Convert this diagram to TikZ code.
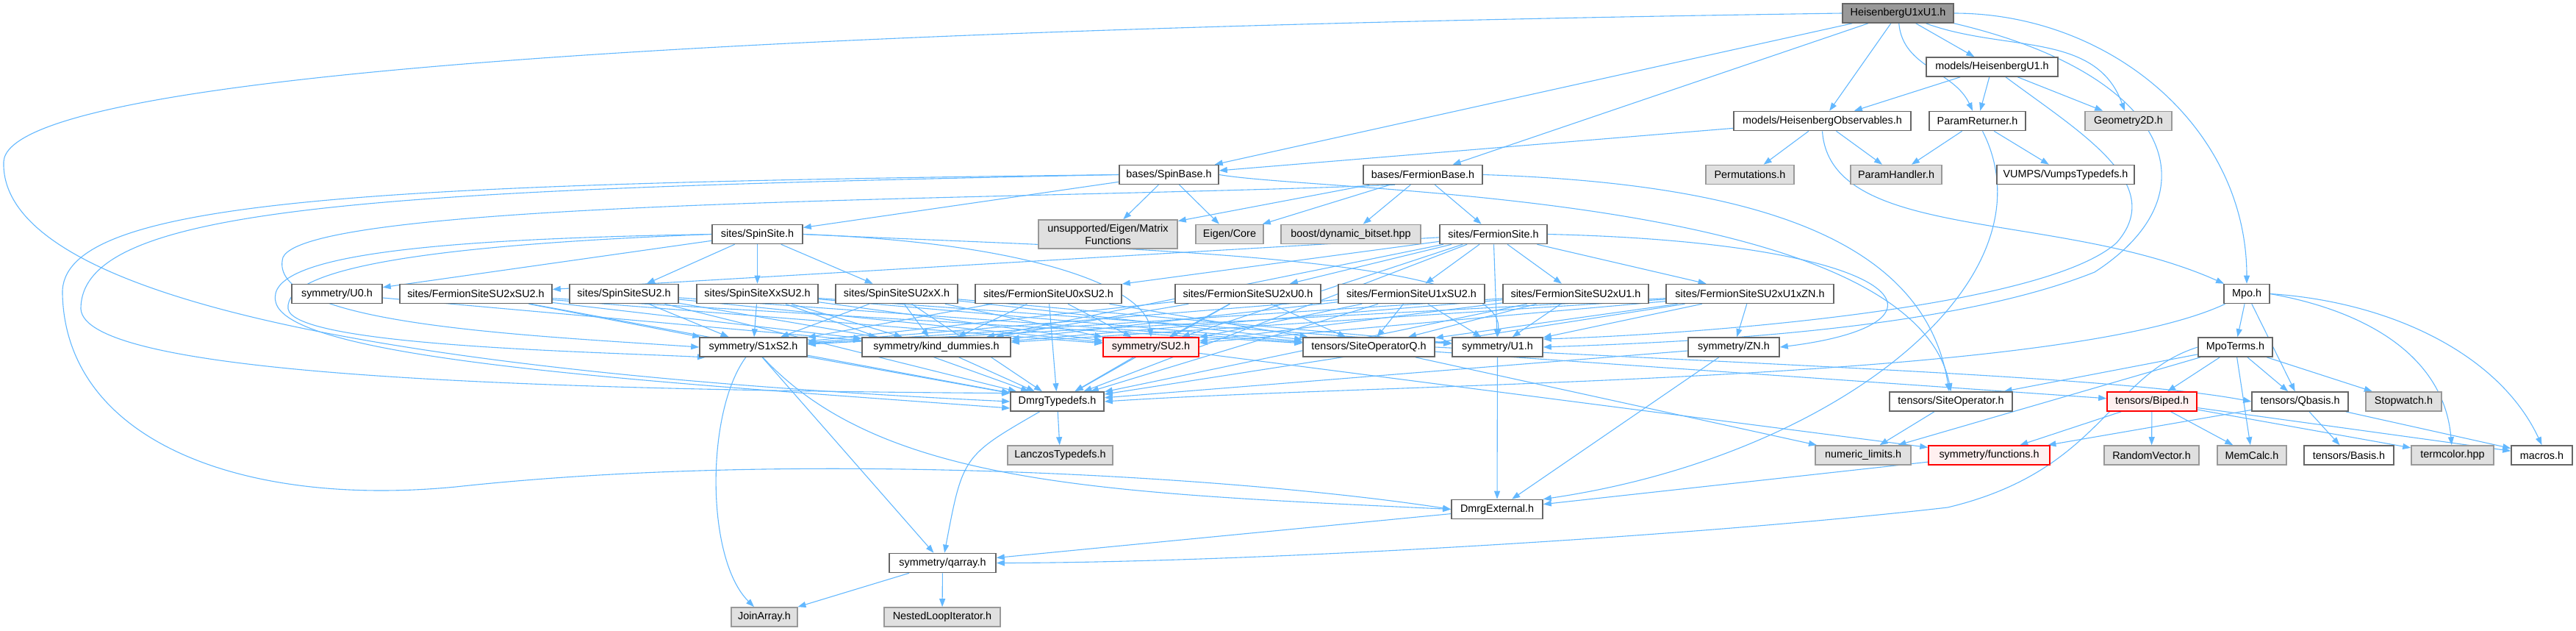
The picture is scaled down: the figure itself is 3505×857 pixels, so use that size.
\documentclass[tikz,border=0pt]{standalone}
\usepackage{fontspec}
\setmainfont{Liberation Sans}
\usepackage{tikz}
\usetikzlibrary{positioning,arrows.meta}
\definecolor{edgeblue}{HTML}{63B8FF}
\definecolor{boxgray}{HTML}{666666}
\definecolor{extgray}{HTML}{999999}
\definecolor{extfill}{HTML}{E0E0E0}
\definecolor{rootfill}{HTML}{999999}
\definecolor{partfill}{HTML}{FFF0F0}
\pgfdeclarelayer{edges}
\pgfsetlayers{edges,main}

\begin{document}
\begin{tikzpicture}[x=1pt,y=-1pt,
  file/.style={draw=boxgray,line width=1.6pt,fill=white,inner sep=0pt,minimum height=26,font=\fontsize{14.4}{17}\selectfont},
  ext/.style={file,draw=extgray,fill=extfill},
  part/.style={file,draw=red,fill=partfill},
  rootfile/.style={file,fill=rootfill},
  dep/.style={draw=edgeblue,line width=1.1pt,-{Triangle[length=11pt,width=8pt]}}]
\useasboundingbox (0,0) rectangle (3505,857);
% 상단
\node[rootfile,minimum width=151] (root) at (2582.5,18) {HeisenbergU1xU1.h};
\node[file,minimum width=179] (hu1) at (2710.5,91) {models/HeisenbergU1.h};
\node[file,minimum width=241] (hobs) at (2479.5,164.5) {models/HeisenbergObservables.h};
\node[file,minimum width=131] (parret) at (2690.5,164.5) {ParamReturner.h};
\node[ext,minimum width=118] (geo) at (2896,164.5) {Geometry2D.h};
% bases
\node[file,minimum width=135] (spinbase) at (1590.5,237.5) {bases/SpinBase.h};
\node[file,minimum width=162] (fermbase) at (1936,237.5) {bases/FermionBase.h};
\node[ext,minimum width=120] (perm) at (2381,237.5) {Permutations.h};
\node[ext,minimum width=124] (parhand) at (2580,237.5) {ParamHandler.h};
\node[file,minimum width=187] (vumps) at (2810.5,237.5) {VUMPS/VumpsTypedefs.h};
\node[file,minimum width=123] (spinsite) at (1030.5,318.5) {sites/SpinSite.h};
\node[ext,minimum width=189,minimum height=39,align=center] (eigmat) at (1507.5,318.5) {unsupported/Eigen/Matrix\\Functions};
\node[ext,minimum width=92] (eigcore) at (1673,318.5) {Eigen/Core};
\node[ext,minimum width=190] (boost) at (1838,318.5) {boost/dynamic\_bitset.hpp};
\node[file,minimum width=146] (fermsite) at (2032,318.5) {sites/FermionSite.h};
% sites
\node[file,minimum width=123] (u0) at (458.5,399.5) {symmetry/U0.h};
\node[file,minimum width=207] (fsu2su2) at (647.5,399.5) {sites/FermionSiteSU2xSU2.h};
\node[file,minimum width=148] (ssu2) at (849,399.5) {sites/SpinSiteSU2.h};
\node[file,minimum width=165] (sxxsu2) at (1030.5,399.5) {sites/SpinSiteXxSU2.h};
\node[file,minimum width=166] (ssu2xx) at (1220,399.5) {sites/SpinSiteSU2xX.h};
\node[file,minimum width=199] (fu0su2) at (1426.5,399.5) {sites/FermionSiteU0xSU2.h};
\node[file,minimum width=198] (fsu2u0) at (1698,399.5) {sites/FermionSiteSU2xU0.h};
\node[file,minimum width=199] (fu1su2) at (1920.5,399.5) {sites/FermionSiteU1xSU2.h};
\node[file,minimum width=198] (fsu2u1) at (2144,399.5) {sites/FermionSiteSU2xU1.h};
\node[file,minimum width=228] (fsu2u1zn) at (2381,399.5) {sites/FermionSiteSU2xU1xZN.h};
\node[file,minimum width=62] (mpo) at (3057,399.5) {Mpo.h};
% symmetry / tensors
\node[file,minimum width=146] (s1xs2) at (1025,472) {symmetry/S1xS2.h};
\node[file,minimum width=202] (kind) at (1274,472) {symmetry/kind\_dummies.h};
\node[part,minimum width=130] (su2) at (1566,472) {symmetry/SU2.h};
\node[file,minimum width=179] (sopq) at (1862.5,472) {tensors/SiteOperatorQ.h};
\node[file,minimum width=123] (u1) at (2037.5,472) {symmetry/U1.h};
\node[file,minimum width=124] (zn) at (2359,472) {symmetry/ZN.h};
\node[file,minimum width=101] (mpoterms) at (3041.5,472) {MpoTerms.h};
\node[file,minimum width=127] (dmrgtd) at (1438.5,546) {DmrgTypedefs.h};
\node[file,minimum width=167] (siteop) at (2654.5,546) {tensors/SiteOperator.h};
\node[part,minimum width=122] (biped) at (2928,546) {tensors/Biped.h};
\node[file,minimum width=131] (qbasis) at (3129.5,546) {tensors/Qbasis.h};
\node[ext,minimum width=103] (stopw) at (3270.5,546) {Stopwatch.h};
\node[ext,minimum width=143] (lanczos) at (1442.5,619) {LanczosTypedefs.h};
\node[ext,minimum width=130] (numlim) at (2535,619) {numeric\_limits.h};
\node[part,minimum width=165] (funcs) at (2706.5,619) {symmetry/functions.h};
\node[ext,minimum width=129] (randvec) at (2927.5,619) {RandomVector.h};
\node[ext,minimum width=94] (memcalc) at (3064,619) {MemCalc.h};
\node[file,minimum width=122] (basis) at (3196,619) {tensors/Basis.h};
\node[ext,minimum width=112] (termcolor) at (3337,619) {termcolor.hpp};
\node[file,minimum width=83] (macros) at (3458.5,619) {macros.h};
\node[file,minimum width=124] (dmrgext) at (2037,692.5) {DmrgExternal.h};
\node[file,minimum width=145] (qarray) at (1282.5,765.5) {symmetry/qarray.h};
\node[ext,minimum width=90] (joinarr) at (1040,839) {JoinArray.h};
\node[ext,minimum width=158] (nested) at (1282,839) {NestedLoopIterator.h};

\begin{pgfonlayer}{edges}
% 최상위 파일
\draw[dep] (root) -- (hu1);
\draw[dep] (root) -- (hobs);
\draw[dep] (root) to[out=-85,in=115] (parret);
\draw[dep] (root) to[out=-20,in=110] (geo);
\draw[dep] (root) -- (spinbase);
\draw[dep] (root) -- (fermbase);
\draw[dep] (root.east) to[out=0,in=90] (mpo.north);
\draw[dep] (root.west) .. controls (1000,40) and (10,100) .. (5,220) .. controls (0,380) and (400,500) .. (dmrgtd.west);
\draw[dep] (root.south east) .. controls (2950,100) and (3020,260) .. (2850,370) .. controls (2650,450) and (2300,465) .. (u1.east);
% models
\draw[dep] (hu1) -- (hobs);
\draw[dep] (hu1) -- (parret);
\draw[dep] (hu1) -- (geo);
\draw[dep] (hu1) .. controls (2830,180) and (2950,250) .. (2880,330) .. controls (2780,420) and (2300,455) .. (u1.10);
\draw[dep] (hobs) -- (perm);
\draw[dep] (hobs) -- (parhand);
\draw[dep] (hobs) -- (spinbase);
\draw[dep] (hobs.south) .. controls (2490,330) and (2800,285) .. (mpo);
\draw[dep] (parret) -- (parhand);
\draw[dep] (parret) -- (vumps);
\draw[dep] (parret) .. controls (2800,380) and (2500,620) .. (dmrgext.north east);
% bases
\draw[dep] (spinbase) -- (eigmat);
\draw[dep] (spinbase) -- (eigcore);
\draw[dep] (spinbase) -- (spinsite);
\draw[dep] (spinbase.west) .. controls (500,250) and (80,270) .. (85,400) .. controls (90,600) and (330,690) .. (620,662) .. controls (1100,610) and (1700,650) .. (dmrgext.west);
\draw[dep] (spinbase.west) .. controls (500,258) and (110,280) .. (110,420) .. controls (115,510) and (700,530) .. (dmrgtd.170);
\draw[dep] (spinbase.east) .. controls (1800,262) and (2600,260) .. (siteop.north);
\draw[dep] (fermbase) -- (boost);
\draw[dep] (fermbase) -- (fermsite);
\draw[dep] (fermbase) -- (eigcore);
\draw[dep] (fermbase) -- (eigmat);
\draw[dep] (fermbase.200) .. controls (1400,272) and (420,270) .. (385,350) .. controls (360,440) and (700,455) .. (s1xs2.west);
\draw[dep] (fermbase.east) .. controls (2400,250) and (2620,330) .. (siteop.100);
% sites
\draw[dep] (spinsite) -- (u0);
\draw[dep] (spinsite) -- (ssu2);
\draw[dep] (spinsite) -- (sxxsu2);
\draw[dep] (spinsite) -- (ssu2xx);
\draw[dep] (spinsite.east) .. controls (1400,330) and (1560,390) .. (su2.north);
\draw[dep] (spinsite.east) .. controls (1500,338) and (2050,345) .. (u1.north);
\draw[dep] (spinsite.west) .. controls (600,325) and (360,345) .. (375,410) .. controls (390,490) and (900,520) .. (dmrgtd.188);
\draw[dep] (spinsite.west) .. controls (620,332) and (385,360) .. (392,420) .. controls (400,470) and (800,478) .. (s1xs2.192);
\draw[dep] (fermsite) -- (fsu2su2);
\draw[dep] (fermsite) -- (fu0su2);
\draw[dep] (fermsite) -- (fsu2u0);
\draw[dep] (fermsite) -- (fu1su2);
\draw[dep] (fermsite) -- (fsu2u1);
\draw[dep] (fermsite) -- (fsu2u1zn);
\draw[dep] (fermsite) -- (u1);
\draw[dep] (fermsite) -- (su2);
\draw[dep] (fermsite) -- (kind);
\draw[dep] (fermsite) -- (dmrgtd);
\draw[dep] (fermsite.east) .. controls (2600,330) and (2680,440) .. (zn.east);
\draw[dep] (u0) -- (kind);
\foreach \s in {fsu2su2,ssu2,sxxsu2,ssu2xx,fu0su2,fsu2u0,fu1su2,fsu2u1,fsu2u1zn}{
  \draw[dep] (\s) -- (s1xs2);
  \draw[dep] (\s) -- (kind);
  \draw[dep] (\s) -- (su2);
  \draw[dep] (\s) -- (sopq);
  \draw[dep] (\s) -- (dmrgtd);
}
\foreach \s in {sxxsu2,ssu2xx,fu1su2,fsu2u1,fsu2u1zn}
  \draw[dep] (\s) -- (u1);
\draw[dep] (fsu2u1zn) -- (zn);
% Mpo
\draw[dep] (mpo) -- (mpoterms);
\draw[dep] (mpo) -- (qbasis);
\draw[dep] (mpo.east) to[out=-10,in=95] (termcolor);
\draw[dep] (mpo.east) .. controls (3250,410) and (3400,480) .. (macros.north);
\draw[dep] (mpo) .. controls (2800,520) and (1900,520) .. (dmrgtd.east);
\draw[dep] (mpoterms) -- (siteop);
\draw[dep] (mpoterms) -- (biped);
\draw[dep] (mpoterms) -- (qbasis);
\draw[dep] (mpoterms) -- (stopw);
\draw[dep] (mpoterms) -- (memcalc);
\draw[dep] (mpoterms) -- (numlim);
\draw[dep] (mpoterms.west) .. controls (2870,510) and (2860,640) .. (2650,690) .. controls (2300,730) and (1700,765) .. (qarray.east);
% symmetry / tensors
\draw[dep] (s1xs2) .. controls (960,560) and (960,760) .. (joinarr);
\draw[dep] (s1xs2) -- (qarray);
\draw[dep] (s1xs2) -- (dmrgtd);
\draw[dep] (s1xs2) .. controls (1200,660) and (1500,670) .. (dmrgext.west);
\draw[dep] (kind) -- (dmrgtd);
\draw[dep] (su2) -- (dmrgtd);
\draw[dep] (su2) -- (funcs);
\draw[dep] (sopq) -- (numlim);
\draw[dep] (sopq) -- (biped);
\draw[dep] (sopq.east) .. controls (2500,500) and (2900,515) .. (qbasis.west);
\draw[dep] (u1) -- (dmrgext);
\draw[dep] (zn) -- (dmrgext);
\draw[dep] (zn) -- (dmrgtd);
\draw[dep] (siteop) -- (numlim);
\draw[dep] (biped) -- (funcs);
\draw[dep] (biped) -- (randvec);
\draw[dep] (biped) -- (memcalc);
\draw[dep] (biped) -- (termcolor);
\draw[dep] (biped) -- (macros);
\draw[dep] (qbasis) -- (basis);
\draw[dep] (qbasis) -- (macros);
\draw[dep] (qbasis) -- (funcs);
\draw[dep] (funcs) -- (dmrgext);
\draw[dep] (dmrgtd) -- (lanczos);
\draw[dep] (dmrgtd) .. controls (1310,620) .. (qarray);
\draw[dep] (dmrgext) -- (qarray);
\draw[dep] (qarray) -- (joinarr);
\draw[dep] (qarray) -- (nested);
\end{pgfonlayer}
\end{tikzpicture}
\end{document}
